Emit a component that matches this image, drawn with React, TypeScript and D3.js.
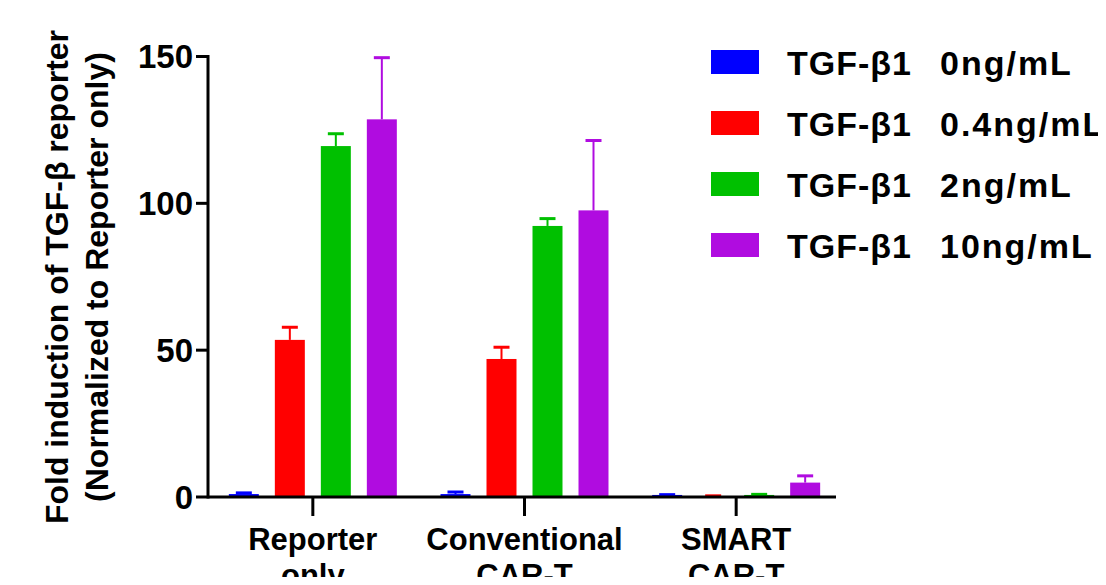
import React from 'react';
import * as d3 from 'd3';

const groups = ['Reporter only', 'Conventional CAR-T', 'SMART CAR-T'];
const groupLines = [['Reporter', 'only'], ['Conventional', 'CAR-T'], ['SMART', 'CAR-T']];
const seriesNames = ['TGF-β1  0ng/mL', 'TGF-β1  0.4ng/mL', 'TGF-β1  2ng/mL', 'TGF-β1  10ng/mL'];
const seriesDose = ['0ng/mL', '0.4ng/mL', '2ng/mL', '10ng/mL'];
const seriesColors = ['#0000ff', '#ff0000', '#00c000', '#b00ce0'];
// mean values per series, one entry per group
const means = [
    [1, 1, 0.7],
    [53.5, 47, 0.2],
    [119.5, 92.3, 0.7],
    [128.6, 97.6, 4.9],
];
// upper SD
const errors = [
    [0.4, 0.7, 0.1],
    [4.3, 4, 0.2],
    [4.2, 2.5, 0.2],
    [21, 23.8, 2.3],
];
const yTicks = [0, 50, 100, 150];

const font = 'Arial, "Liberation Sans", sans-serif';

export default function App() {
    const width = 1106;
    const height = 585;
    const x0 = 208;
    const xEnd = 836;
    const y0 = 497;

    const y = d3.scaleLinear().domain([0, 150]).range([y0, 56.5]);
    const xg = d3.scaleBand().domain(groups).range([207, 842]);
    const xs = d3.scaleBand()
        .domain(seriesNames)
        .range([-92, 92])
        .paddingInner(0.348)
        .paddingOuter(0.174);
    const bw = xs.bandwidth();

    return (
        <div style={{ margin: -8 }}>
            <svg width={width} height={height} style={{ display: 'block' }} fontFamily={font} fontWeight="bold">
                {/* bars + error bars */}
                {seriesNames.map((s, si) => (
                    <g key={s}>
                        {groups.map((g, gi) => {
                            const cx = xg(g)! + xg.bandwidth() / 2 + xs(s)! + bw / 2;
                            const v = means[si][gi];
                            const e = errors[si][gi];
                            const top = y(v);
                            const errTop = y(v + e);
                            return (
                                <g key={g}>
                                    <rect x={cx - bw / 2} y={top} width={bw} height={Math.max(y0 - top, 1.5)}
                                        fill={seriesColors[si]} />
                                    <line x1={cx} x2={cx} y1={top} y2={errTop} stroke={seriesColors[si]} strokeWidth={2} />
                                    <line x1={cx - 8} x2={cx + 8} y1={errTop} y2={errTop} stroke={seriesColors[si]} strokeWidth={3} />
                                </g>
                            );
                        })}
                    </g>
                ))}

                {/* y axis */}
                <line x1={x0} x2={x0} y1={y(150) - 1.5} y2={y0 + 1.5} stroke="#000" strokeWidth={3} />
                {yTicks.map(t => (
                    <g key={t}>
                        <line x1={x0 - 12} x2={x0} y1={y(t)} y2={y(t)} stroke="#000" strokeWidth={3} />
                        <text x={x0 - 15} y={y(t)} dy="0.36em" textAnchor="end" fontSize={33}>{t}</text>
                    </g>
                ))}

                {/* x axis */}
                <line x1={x0} x2={xEnd} y1={y0} y2={y0} stroke="#000" strokeWidth={3} />
                {groups.map((g, gi) => {
                    const cx = xg(g)! + xg.bandwidth() / 2;
                    return (
                        <g key={g}>
                            <line x1={cx} x2={cx} y1={y0} y2={y0 + 19} stroke="#000" strokeWidth={3} />
                            {groupLines[gi].map((l, li) => (
                                <text key={li} x={cx} y={550 + li * 36} textAnchor="middle" fontSize={31}>{l}</text>
                            ))}
                        </g>
                    );
                })}

                {/* y title */}
                <g transform="translate(68, 277) rotate(-90)">
                    <text textAnchor="middle" fontSize={32}>Fold induction of TGF-β reporter</text>
                    <text y={40} textAnchor="middle" fontSize={32}>(Normalized to Reporter only)</text>
                </g>

                {/* legend */}
                {seriesNames.map((s, si) => (
                    <g key={s} transform={`translate(711, ${50 + si * 61})`}>
                        <rect width={48} height={24} fill={seriesColors[si]} />
                        <text x={76} y={25} fontSize={34} letterSpacing={1}>TGF-β1</text>
                        <text x={229} y={25} fontSize={34} letterSpacing={2}>{seriesDose[si]}</text>
                    </g>
                ))}
            </svg>
        </div>
    );
}
